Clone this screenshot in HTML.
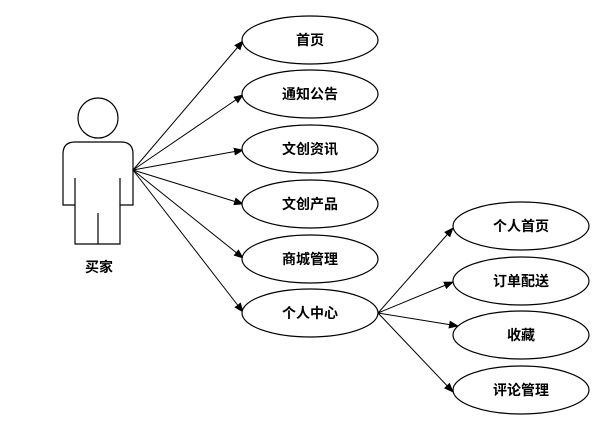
<!DOCTYPE html>
<html><head><meta charset="utf-8"><style>
html,body{margin:0;padding:0;background:#fff;}
text{font-family:"Liberation Sans","Noto Sans CJK SC",sans-serif;font-size:14px;font-weight:bold;fill:#000;}
</style></head><body>
<svg width="614" height="431" viewBox="0 0 614 431" xmlns="http://www.w3.org/2000/svg">
<defs><marker id="a" markerWidth="10" markerHeight="8" refX="9" refY="4" orient="auto" markerUnits="userSpaceOnUse"><path d="M0,0 L10,4 L0,8 Z" fill="#000"/></marker></defs>
<g fill="none" stroke="#000" stroke-width="1.2">
<circle cx="98" cy="118" r="20"/>
<path d="M75,142 H121 Q133,142 133,154 V205 H120 V244 H75 V205 H63 V154 Q63,142 75,142 Z"/>
<path d="M75,178 V205 M120,178 V205 M98,213 V244"/>
</g>
<text x="99" y="272" text-anchor="middle">买家</text>
<g stroke="#000" stroke-width="1" marker-end="url(#a)">
<line x1="133" y1="170" x2="243" y2="41"/>
<line x1="133" y1="170" x2="243" y2="95"/>
<line x1="133" y1="170" x2="243" y2="150"/>
<line x1="133" y1="170" x2="243" y2="204"/>
<line x1="133" y1="170" x2="243" y2="258"/>
<line x1="133" y1="170" x2="243" y2="312"/>
<line x1="378" y1="313" x2="453" y2="228"/>
<line x1="378" y1="313" x2="453" y2="282"/>
<line x1="378" y1="313" x2="458" y2="326"/>
<line x1="378" y1="313" x2="453" y2="392"/>
</g>
<g fill="#fff" stroke="#000" stroke-width="1.2">
<ellipse cx="310" cy="40" rx="68" ry="24"/>
<ellipse cx="310" cy="94" rx="68" ry="24"/>
<ellipse cx="310" cy="149" rx="68" ry="24"/>
<ellipse cx="310" cy="204" rx="68" ry="24"/>
<ellipse cx="310" cy="259" rx="68" ry="24"/>
<ellipse cx="310" cy="313" rx="68" ry="24"/>
<ellipse cx="521" cy="226" rx="68" ry="24"/>
<ellipse cx="521" cy="281" rx="68" ry="24"/>
<ellipse cx="521" cy="335" rx="68" ry="24"/>
<ellipse cx="521" cy="390" rx="68" ry="24"/>
</g>
<g text-anchor="middle">
<text x="310" y="45">首页</text>
<text x="310" y="99">通知公告</text>
<text x="310" y="154">文创资讯</text>
<text x="310" y="209">文创产品</text>
<text x="310" y="264">商城管理</text>
<text x="310" y="318">个人中心</text>
<text x="521" y="231">个人首页</text>
<text x="521" y="286">订单配送</text>
<text x="521" y="340">收藏</text>
<text x="521" y="395">评论管理</text>
</g>
</svg>
</body></html>
